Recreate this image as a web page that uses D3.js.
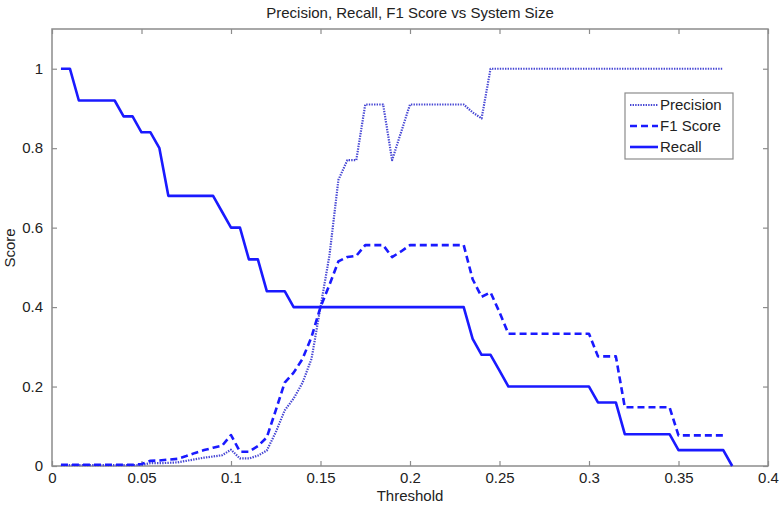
<!DOCTYPE html>
<html>
<head>
<meta charset="utf-8">
<script src="https://cdn.jsdelivr.net/npm/d3@7"></script>
<style>
  html, body { margin: 0; padding: 0; background: #ffffff; }
  svg { display: block; font-family: "Liberation Sans", Arial, sans-serif; }
</style>
</head>
<body>
<svg id="chart" width="779" height="507"></svg>
<script>
// ---- data ----
const thresholds = [
  0.005, 0.010, 0.015, 0.020, 0.025, 0.030, 0.035, 0.040, 0.045, 0.050,
  0.055, 0.060, 0.065, 0.070, 0.075, 0.080, 0.085, 0.090, 0.095, 0.100,
  0.105, 0.110, 0.115, 0.120, 0.125, 0.130, 0.135, 0.140, 0.145, 0.150,
  0.155, 0.160, 0.165, 0.170, 0.175, 0.180, 0.185, 0.190, 0.195, 0.200,
  0.205, 0.210, 0.215, 0.220, 0.225, 0.230, 0.235, 0.240, 0.245, 0.250,
  0.255, 0.260, 0.265, 0.270, 0.275, 0.280, 0.285, 0.290, 0.295, 0.300,
  0.305, 0.310, 0.315, 0.320, 0.325, 0.330, 0.335, 0.340, 0.345, 0.350,
  0.355, 0.360, 0.365, 0.370, 0.375, 0.380
];
const precision = [
  0.002, 0.002, 0.002, 0.002, 0.002, 0.002, 0.002, 0.002, 0.002, 0.003,
  0.007, 0.007, 0.008, 0.009, 0.013, 0.017, 0.021, 0.024, 0.027, 0.041,
  0.019, 0.019, 0.026, 0.039, 0.085, 0.140, 0.170, 0.210, 0.270, 0.400,
  0.530, 0.720, 0.770, 0.770, 0.910, 0.910, 0.910, 0.770, 0.840, 0.910,
  0.910, 0.910, 0.910, 0.910, 0.910, 0.910, 0.890, 0.875, 1.000, 1.000,
  1.000, 1.000, 1.000, 1.000, 1.000, 1.000, 1.000, 1.000, 1.000, 1.000,
  1.000, 1.000, 1.000, 1.000, 1.000, 1.000, 1.000, 1.000, 1.000, 1.000,
  1.000, 1.000, 1.000, 1.000, 1.000, null
];
const f1score = [
  0.003, 0.003, 0.003, 0.003, 0.003, 0.003, 0.003, 0.003, 0.003, 0.005,
  0.013, 0.014, 0.016, 0.018, 0.025, 0.033, 0.040, 0.046, 0.051, 0.078,
  0.036, 0.036, 0.050, 0.072, 0.140, 0.210, 0.235, 0.270, 0.325, 0.400,
  0.456, 0.515, 0.526, 0.529, 0.556, 0.556, 0.556, 0.526, 0.540, 0.556,
  0.556, 0.556, 0.556, 0.556, 0.556, 0.556, 0.470, 0.426, 0.437, 0.387,
  0.333, 0.333, 0.333, 0.333, 0.333, 0.333, 0.333, 0.333, 0.333, 0.333,
  0.276, 0.276, 0.276, 0.148, 0.148, 0.148, 0.148, 0.148, 0.148, 0.077,
  0.077, 0.077, 0.077, 0.077, 0.077, null
];
const recall = [
  1.00, 1.00, 0.92, 0.92, 0.92, 0.92, 0.92, 0.88, 0.88, 0.84,
  0.84, 0.80, 0.68, 0.68, 0.68, 0.68, 0.68, 0.68, 0.64, 0.60,
  0.60, 0.52, 0.52, 0.44, 0.44, 0.44, 0.40, 0.40, 0.40, 0.40,
  0.40, 0.40, 0.40, 0.40, 0.40, 0.40, 0.40, 0.40, 0.40, 0.40,
  0.40, 0.40, 0.40, 0.40, 0.40, 0.40, 0.32, 0.28, 0.28, 0.24,
  0.20, 0.20, 0.20, 0.20, 0.20, 0.20, 0.20, 0.20, 0.20, 0.20,
  0.16, 0.16, 0.16, 0.08, 0.08, 0.08, 0.08, 0.08, 0.08, 0.04,
  0.04, 0.04, 0.04, 0.04, 0.04, 0.00
];
const xTicks = [0, 0.05, 0.1, 0.15, 0.2, 0.25, 0.3, 0.35, 0.4];
const yTicks = [0, 0.2, 0.4, 0.6, 0.8, 1];
const seriesNames = ["Precision", "F1 Score", "Recall"];

(function draw() {
  const svg = d3.select("#chart");
  const pLeft = 52, pRight = 768, pTop = 29, pBottom = 466;
  const x = d3.scaleLinear().domain([0, 0.4]).range([pLeft, pRight]);
  const y = d3.scaleLinear().domain([0, 1.1]).range([pBottom, pTop]);
  const axisColor = "#8c8c8c";
  const textColor = "#222";

  svg.append("rect")
    .attr("x", pLeft).attr("y", pTop)
    .attr("width", pRight - pLeft).attr("height", pBottom - pTop)
    .attr("fill", "#fff").attr("stroke", axisColor).attr("stroke-width", 1.5);

  const tickLen = 5;
  function styleAxis(g) {
    g.select(".domain").remove();
    g.selectAll(".tick line").attr("stroke", axisColor).attr("stroke-width", 1.2);
    g.selectAll(".tick text").attr("fill", textColor)
      .style("font-size", "15px").style("font-family", '"Liberation Sans", Arial, sans-serif');
  }
  const fmt = d => String(+(+d).toFixed(2));
  svg.append("g").attr("transform", `translate(0,${pBottom})`)
    .call(d3.axisBottom(x).tickValues(xTicks).tickSizeInner(-tickLen).tickSizeOuter(0).tickPadding(6).tickFormat(fmt))
    .call(styleAxis);
  svg.append("g").attr("transform", `translate(0,${pTop})`)
    .call(d3.axisTop(x).tickValues(xTicks).tickSizeInner(-tickLen).tickSizeOuter(0).tickFormat(""))
    .call(styleAxis);
  svg.append("g").attr("transform", `translate(${pLeft},0)`)
    .call(d3.axisLeft(y).tickValues(yTicks).tickSizeInner(-tickLen).tickSizeOuter(0).tickPadding(9).tickFormat(fmt))
    .call(styleAxis);
  svg.append("g").attr("transform", `translate(${pRight},0)`)
    .call(d3.axisRight(y).tickValues(yTicks).tickSizeInner(-tickLen).tickSizeOuter(0).tickFormat(""))
    .call(styleAxis);

  const rows = thresholds.map((t, i) => ({ t, p: precision[i], f: f1score[i], r: recall[i] }));
  function lineFor(key) {
    return d3.line().defined(d => d[key] != null).x(d => x(d.t)).y(d => y(d[key]));
  }
  const styles = {
    "Precision": { key: "p", stroke: "#4646d4", width: 2.2, dash: "1.4,1.2" },
    "F1 Score": { key: "f", stroke: "#1a1aff", width: 2.6, dash: "7,4" },
    "Recall":    { key: "r", stroke: "#1a1aff", width: 2.6, dash: null }
  };
  seriesNames.forEach(name => {
    const s = styles[name];
    svg.append("path").datum(rows)
      .attr("fill", "none")
      .attr("stroke", s.stroke)
      .attr("stroke-width", s.width)
      .attr("stroke-dasharray", s.dash)
      .attr("stroke-linejoin", "round")
      .attr("d", lineFor(s.key));
  });

  svg.append("text").attr("x", 410).attr("y", 18).attr("text-anchor", "middle")
    .attr("fill", textColor).style("font-size", "15px")
    .text("Precision, Recall, F1 Score vs System Size");
  svg.append("text").attr("x", 410).attr("y", 501).attr("text-anchor", "middle")
    .attr("fill", textColor).style("font-size", "15px").text("Threshold");
  svg.append("text").attr("transform", "translate(15,248) rotate(-90)").attr("text-anchor", "middle")
    .attr("fill", textColor).style("font-size", "15px").text("Score");

  const lg = svg.append("g");
  lg.append("rect").attr("x", 625).attr("y", 93).attr("width", 108).attr("height", 66)
    .attr("fill", "#fff").attr("stroke", axisColor).attr("stroke-width", 1.2);
  const rowY = [105, 126, 147];
  seriesNames.forEach((name, i) => {
    const s = styles[name];
    lg.append("line").attr("x1", 630).attr("x2", 658).attr("y1", rowY[i]).attr("y2", rowY[i])
      .attr("stroke", s.stroke).attr("stroke-width", s.width).attr("stroke-dasharray", s.dash);
    lg.append("text").attr("x", 660).attr("y", rowY[i]).attr("dy", "0.35em")
      .attr("fill", textColor).style("font-size", "15px").text(name);
  });
})();
</script>
</body>
</html>
